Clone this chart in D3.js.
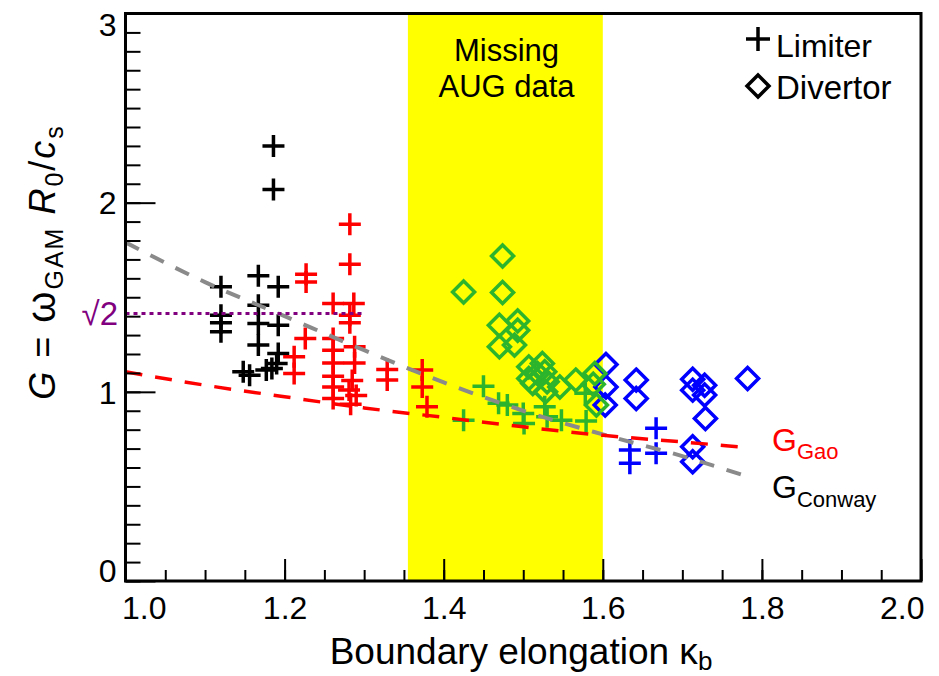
<!DOCTYPE html>
<html lang="en">
<head>
<meta charset="UTF-8">
<title>GAM frequency vs boundary elongation</title>
<script src="https://d3js.org/d3.v7.min.js"></script>
<style>
  body { margin: 0; background: #fff; }
  svg { display: block; font-family: "Liberation Sans", Arial, sans-serif; }
</style>
</head>
<body>
<svg width="939" height="676"></svg>
<script>
const xTicks = [1.0, 1.2, 1.4, 1.6, 1.8, 2.0];
const yTicks = [0, 1, 2, 3];
const missingBand = [1.355, 1.6];
const sqrt2Range = [1.0, 1.3];

// points are [kappa_b, G]
const blackLimiter = [
  [1.186, 2.30], [1.186, 2.07],
  [1.120, 1.555], [1.120, 1.405], [1.120, 1.365], [1.120, 1.317],
  [1.167, 1.613], [1.167, 1.458], [1.167, 1.361], [1.167, 1.247],
  [1.192, 1.555], [1.192, 1.352], [1.192, 1.203],
  [1.148, 1.106], [1.156, 1.088], [1.177, 1.115], [1.184, 1.124], [1.190, 1.150]
];
const redLimiter = [
  [1.282, 1.886], [1.282, 1.675],
  [1.227, 1.622], [1.227, 1.581],
  [1.261, 1.467], [1.287, 1.467], [1.282, 1.405], [1.282, 1.365],
  [1.226, 1.282],
  [1.212, 1.185], [1.212, 1.097],
  [1.261, 1.282], [1.261, 1.220], [1.261, 1.153], [1.261, 1.083], [1.261, 1.026], [1.261, 0.965],
  [1.288, 1.238], [1.288, 1.153], [1.285, 1.060], [1.281, 1.010], [1.290, 0.980], [1.283, 0.935],
  [1.329, 1.118], [1.329, 1.062],
  [1.373, 1.115], [1.373, 1.026],
  [1.379, 0.921]
];
const greenLimiter = [
  [1.450, 1.030], [1.425, 0.850], [1.469, 0.939], [1.480, 0.930],
  [1.500, 0.886], [1.501, 0.833], [1.527, 0.921], [1.530, 0.868],
  [1.548, 0.850], [1.578, 0.992], [1.579, 0.846]
];
const greenDivertor = [
  [1.474, 1.718], [1.425, 1.528], [1.474, 1.525],
  [1.470, 1.352], [1.493, 1.375], [1.493, 1.326],
  [1.470, 1.238], [1.489, 1.247],
  [1.507, 1.132], [1.524, 1.150], [1.518, 1.097], [1.527, 1.106],
  [1.512, 1.044], [1.507, 1.071], [1.528, 1.000], [1.530, 1.053],
  [1.546, 1.026], [1.566, 1.062], [1.590, 1.097], [1.588, 1.040], [1.592, 0.930]
];
const blueLimiter = [
  [1.667, 0.807], [1.667, 0.675], [1.634, 0.692], [1.634, 0.622]
];
const blueDivertor = [
  [1.604, 1.145], [1.604, 1.026], [1.603, 0.930],
  [1.642, 1.062], [1.642, 0.965],
  [1.713, 1.066], [1.713, 1.009], [1.728, 1.035], [1.728, 0.983], [1.729, 0.859],
  [1.782, 1.071],
  [1.713, 0.710], [1.713, 0.630]
];

const gaoCurve = [
  [1.0, 1.106], [1.1, 1.035], [1.2, 0.974], [1.3, 0.915], [1.4, 0.865],
  [1.5, 0.815], [1.6, 0.770], [1.7, 0.735], [1.775, 0.708]
];
const conwayCurve = [
  [1.0, 1.79], [1.1, 1.58], [1.2, 1.40], [1.3, 1.22], [1.4, 1.05],
  [1.5, 0.90], [1.6, 0.775], [1.7, 0.66], [1.78, 0.555]
];

const svg = d3.select("svg");
const plotLeft = 125.5, plotRight = 921, plotTop = 13.5, plotBottom = 581;

const x = d3.scaleLinear().domain([1, 2]).range([plotLeft, plotRight]);
const y = d3.scaleLinear().domain([0, 3]).range([plotBottom, plotTop]);

// missing data band
svg.append("rect")
  .attr("x", x(missingBand[0]))
  .attr("y", plotTop)
  .attr("width", x(missingBand[1]) - x(missingBand[0]))
  .attr("height", plotBottom - plotTop)
  .attr("fill", "#ffff00");

const bandText = svg.append("text")
  .attr("text-anchor", "middle")
  .attr("font-size", 31)
  .attr("fill", "#000");
bandText.append("tspan").attr("x", x(1.479)).attr("y", 61).text("Missing");
bandText.append("tspan").attr("x", x(1.479)).attr("y", 97).text("AUG data");

// markers
const crossPath = "M-11,0H11M0,-11V11";
const diamondPath = "M0,-11L11,0L0,11L-11,0Z";

function drawMarks(data, path, color) {
  svg.append("g")
    .selectAll("path")
    .data(data)
    .join("path")
    .attr("transform", d => `translate(${x(d[0])},${y(d[1])})`)
    .attr("d", path)
    .attr("fill", "none")
    .attr("stroke", color)
    .attr("stroke-width", 3.5);
}

drawMarks(blackLimiter, crossPath, "#000");
drawMarks(redLimiter, crossPath, "#ff0000");
drawMarks(blueDivertor, diamondPath, "#0000ff");
drawMarks(blueLimiter, crossPath, "#0000ff");
drawMarks(greenLimiter, crossPath, "#2db42d");
drawMarks(greenDivertor, diamondPath, "#2db42d");

// model curves
const line = d3.line()
  .x(d => x(d[0]))
  .y(d => y(d[1]))
  .curve(d3.curveMonotoneX);

svg.append("path")
  .datum(conwayCurve)
  .attr("d", line)
  .attr("fill", "none")
  .attr("stroke", "#8a8a8a")
  .attr("stroke-width", 4)
  .attr("stroke-dasharray", "15,13");

svg.append("path")
  .datum(gaoCurve)
  .attr("d", line)
  .attr("fill", "none")
  .attr("stroke", "#ff0000")
  .attr("stroke-width", 3.5)
  .attr("stroke-dasharray", "17,13");

// sqrt(2) reference
svg.append("line")
  .attr("x1", x(sqrt2Range[0]))
  .attr("x2", x(sqrt2Range[1]))
  .attr("y1", y(Math.SQRT2))
  .attr("y2", y(Math.SQRT2))
  .attr("stroke", "#800080")
  .attr("stroke-width", 3)
  .attr("stroke-dasharray", "4,4");

svg.append("text")
  .attr("x", 118)
  .attr("y", y(Math.SQRT2) + 12)
  .attr("text-anchor", "end")
  .attr("font-size", 33)
  .attr("fill", "#800080")
  .text("√2");

// axes
const xMinor = d3.range(1, 2.0001, 0.05);
const yMinor = d3.range(0, 3.0001, 0.1);

svg.append("g")
  .attr("transform", `translate(0,${plotBottom})`)
  .call(d3.axisBottom(x).tickValues(xMinor).tickSize(-11).tickFormat(""))
  .call(g => g.select(".domain").remove())
  .selectAll("line").attr("stroke-width", 2);

svg.append("g")
  .attr("transform", `translate(${plotLeft},0)`)
  .call(d3.axisLeft(y).tickValues(yMinor).tickSize(-15).tickFormat(""))
  .call(g => g.select(".domain").remove())
  .selectAll("line").attr("stroke-width", 2);

const xAxis = svg.append("g")
  .attr("transform", `translate(0,${plotBottom})`)
  .call(d3.axisBottom(x).tickValues(xTicks).tickSize(-22).tickPadding(12).tickFormat(d3.format(".1f")))
  .call(g => g.select(".domain").remove());
xAxis.selectAll("line").attr("stroke-width", 2);
xAxis.selectAll("text")
  .attr("font-size", 32)
  .attr("font-family", "Liberation Sans, Arial, sans-serif")
  .attr("fill", "#000")
  .attr("dy", "0.8em")
  .attr("text-anchor", d => d === 1 ? "start" : d === 2 ? "end" : "middle")
  .attr("x", d => d === 1 ? -4 : d === 2 ? 3 : 0);

const yAxis = svg.append("g")
  .attr("transform", `translate(${plotLeft},0)`)
  .call(d3.axisLeft(y).tickValues(yTicks).tickSize(-30).tickPadding(9).tickFormat(d3.format("d")))
  .call(g => g.select(".domain").remove());
yAxis.selectAll("line").attr("stroke-width", 2);
yAxis.selectAll("text")
  .attr("font-size", 32)
  .attr("font-family", "Liberation Sans, Arial, sans-serif")
  .attr("fill", "#000")
  .attr("dy", d => d === 0 ? "0em" : d === 3 ? "0.68em" : "0.35em");

// frame
svg.append("rect")
  .attr("x", plotLeft)
  .attr("y", plotTop)
  .attr("width", plotRight - plotLeft)
  .attr("height", plotBottom - plotTop)
  .attr("fill", "none")
  .attr("stroke", "#000")
  .attr("stroke-width", 3);

// axis titles
const xTitle = svg.append("text")
  .attr("x", 521)
  .attr("y", 664)
  .attr("text-anchor", "middle")
  .attr("font-size", 37);
xTitle.append("tspan").text("Boundary elongation κ");
xTitle.append("tspan").attr("font-size", 26).attr("dy", 6).text("b");

const yTitle = svg.append("text")
  .attr("transform", "translate(55,262) rotate(-90)")
  .attr("text-anchor", "middle")
  .attr("font-size", 36)
  .attr("letter-spacing", 2);
yTitle.append("tspan").attr("font-style", "italic").text("G");
yTitle.append("tspan").text(" = ");
yTitle.append("tspan").attr("font-size", 40).text("ω");
yTitle.append("tspan").attr("font-size", 25).attr("dy", 8).text("GAM");
yTitle.append("tspan").attr("dy", -8).text(" ");
yTitle.append("tspan").attr("font-style", "italic").text("R");
yTitle.append("tspan").attr("font-size", 25).attr("dy", 8).text("0");
yTitle.append("tspan").attr("dy", -8).text("/");
yTitle.append("tspan").attr("font-style", "italic").text("c");
yTitle.append("tspan").attr("font-size", 25).attr("dy", 8).text("s");

// legend
const legend = svg.append("g");
legend.append("path")
  .attr("transform", "translate(758,39)")
  .attr("d", "M-12,0H12M0,-12V12")
  .attr("fill", "none").attr("stroke", "#000").attr("stroke-width", 3.5);
legend.append("path")
  .attr("transform", "translate(758,86)")
  .attr("d", "M0,-11L11,0L0,11L-11,0Z")
  .attr("fill", "none").attr("stroke", "#000").attr("stroke-width", 3.5);
legend.append("text").attr("x", 776).attr("y", 57).attr("font-size", 32).text("Limiter");
legend.append("text").attr("x", 776).attr("y", 99).attr("font-size", 33).text("Divertor");

// curve labels
const gao = svg.append("text").attr("x", 772).attr("y", 451).attr("font-size", 32).attr("fill", "#ff0000");
gao.append("tspan").text("G");
gao.append("tspan").attr("font-size", 22).attr("dy", 8).text("Gao");

const conway = svg.append("text").attr("x", 772).attr("y", 498).attr("font-size", 32).attr("fill", "#000");
conway.append("tspan").text("G");
conway.append("tspan").attr("font-size", 22).attr("dy", 9).text("Conway");
</script>
</body>
</html>
